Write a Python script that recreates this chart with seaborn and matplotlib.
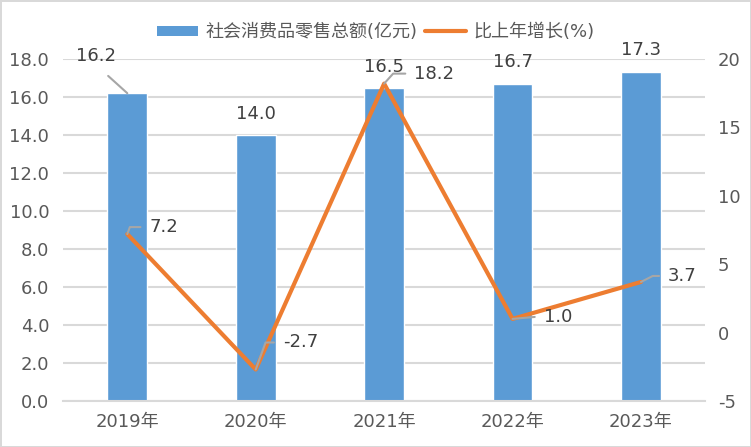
import numpy as np
import seaborn as sns
import matplotlib.pyplot as plt
from matplotlib.patches import Patch
from matplotlib.lines import Line2D

# 数据
years = ['2019年', '2020年', '2021年', '2022年', '2023年']
retail_sales = [16.2, 14.0, 16.5, 16.7, 17.3]   # 社会消费品零售总额(亿元)
growth_rate = [7.2, -2.7, 18.2, 1.0, 3.7]       # 比上年增长(%)
left_ticks = [0, 2, 4, 6, 8, 10, 12, 14, 16, 18]
right_ticks = [-5, 0, 5, 10, 15, 20]

bar_label = '社会消费品零售总额(亿元)'
line_label = '比上年增长(%)'

BLUE = '#5B9BD5'
ORANGE = '#ED7D31'
GRID = '#D9D9D9'
TICK = '#595959'
TEXT = '#404040'
LEADER = '#A6A6A6'

sns.set_theme(style='white')
plt.rcParams['font.family'] = ['DejaVu Sans', 'Noto Sans CJK SC']
plt.rcParams['axes.unicode_minus'] = False

fig = plt.figure(figsize=(7.51, 4.47), dpi=100)
fig.patch.set_edgecolor(GRID)
fig.patch.set_linewidth(2)
ax = fig.add_axes([0.084, 0.103, 0.855, 0.765])

sns.barplot(x=years, y=retail_sales, ax=ax, color=BLUE, width=0.31, saturation=1)
ax.set_ylim(0, 18)
ax.set_yticks(left_ticks)
ax.set_yticklabels([f'{t:.1f}' for t in left_ticks])
ax.set_xlim(-0.5, len(years) - 0.5)
ax.grid(axis='y', color=GRID, linewidth=1.5)
ax.set_axisbelow(True)
for s in ['top', 'left', 'right']:
    ax.spines[s].set_visible(False)
ax.spines['bottom'].set_color(GRID)
ax.spines['bottom'].set_linewidth(1.5)
ax.tick_params(axis='y', length=0, pad=10, labelsize=13, labelcolor=TICK)
ax.tick_params(axis='x', length=0, pad=9, labelsize=13, labelcolor=TICK)
ax.set_xlabel('')
ax.set_ylabel('')

ax2 = ax.twinx()
sns.lineplot(x=years, y=growth_rate, ax=ax2, color=ORANGE, linewidth=3, sort=False)
ax2.set_ylim(-5, 20)
ax2.set_yticks(right_ticks)
ax2.set_yticklabels([str(t) for t in right_ticks])
ax2.tick_params(axis='y', length=0, pad=9, labelsize=13, labelcolor=TICK)
for s in ['top', 'left', 'right', 'bottom']:
    ax2.spines[s].set_visible(False)
ax2.set_ylabel('')

# 柱子标签 (偏移像素)
bar_offsets = [(-31, 37), (0, 21), (0, 21), (0, 22), (0, 22)]
for i, (v, off) in enumerate(zip(retail_sales, bar_offsets)):
    if off[0] != 0:
        ax.annotate(f'{v:.1f}', xy=(i, v), xytext=off, textcoords='offset pixels',
                    ha='center', va='center', fontsize=13, color=TEXT,
                    arrowprops=dict(arrowstyle='-', color=LEADER, lw=1.5,
                                    shrinkA=8, shrinkB=0, relpos=(0.5, 0)))
    else:
        ax.annotate(f'{v:.1f}', xy=(i, v), xytext=off, textcoords='offset pixels',
                    ha='center', va='center', fontsize=13, color=TEXT)

# 折线标签
line_offsets = [(22, 7), (27, 27), (30, 10), (31, 2), (27, 6)]
leader_angles = [70, 70, 48, 5, 27]
for i, (v, off, ang) in enumerate(zip(growth_rate, line_offsets, leader_angles)):
    ax2.annotate(f'{v:.1f}', xy=(i, v), xytext=off, textcoords='offset pixels',
                 ha='left', va='center', fontsize=13, color=TEXT,
                 arrowprops=dict(arrowstyle='-', color=LEADER, lw=1.5,
                                 shrinkA=4, shrinkB=0, relpos=(0, 0.5),
                                 connectionstyle=f'angle,angleA=0,angleB={ang},rad=0'))

handles = [Patch(facecolor=BLUE, edgecolor='none'),
           Line2D([0], [0], color=ORANGE, linewidth=3)]
fig.legend(handles, [bar_label, line_label], loc='center', bbox_to_anchor=(0.5, 0.928),
           ncol=2, frameon=False, fontsize=13, handlelength=2.3, handleheight=0.5,
           handletextpad=0.4, columnspacing=0.4, labelcolor=TICK)

fig.savefig('out.png', dpi=100, edgecolor=fig.get_edgecolor())
